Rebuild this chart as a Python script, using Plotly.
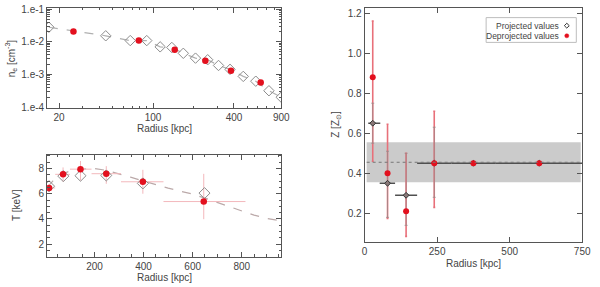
import numpy as np
import plotly.graph_objects as go

# ---------------- data ----------------
# Top-left: electron density
ne_proj_r = [16.8, 44.5, 67.7, 89.8, 113, 138, 168, 207, 255, 307, 374, 469, 581, 728, 898]
ne_proj = [0.028, 0.0153, 0.0109, 0.0109, 0.0070, 0.0067, 0.00444, 0.00316, 0.00282,
           0.00188, 0.00143, 0.00087, 0.00062, 0.000316, 0.000200]
ne_deproj_r = [25.6, 78.4, 145, 245, 380, 632]
ne_deproj = [0.0207, 0.0109, 0.0057, 0.00264, 0.00129, 0.00057]
ne_ticks = [1e-4, 1e-3, 1e-2, 1e-1]
ne_ticktext = ["1.e-4", "1.e-3", "1.e-2", "1.e-1"]
r_log_ticks = [20, 100, 400, 900]

# Bottom-left: temperature
T_proj_r = [15, 73, 143, 248, 397, 648]
T_proj = [6.6, 7.40, 7.43, 7.45, 6.82, 6.05]
T_deproj_r = [15, 72, 143, 248, 397, 645]
T_deproj = [6.46, 7.54, 7.95, 7.59, 6.95, 5.38]
T_rerr_minus = [7, 32, 43, 60, 89, 164]
T_rerr_plus = [25, 28, 45, 60, 84, 170]
T_err_plus = [0.3, 0.55, 0.65, 0.6, 0.95, 2.2]
T_err_minus = [0.3, 0.6, 0.9, 0.8, 0.95, 1.4]
T_model_r = [7, 30, 60, 100, 150, 200, 250, 300, 350, 400, 450, 500, 550, 600,
             650, 700, 750, 800, 850, 900, 961]
T_model = [6.5, 7.0, 7.5, 7.8, 7.95, 8.0, 7.85, 7.6, 7.3, 7.0, 6.7, 6.45, 6.2, 5.97,
           5.65, 5.3, 4.95, 4.6, 4.3, 4.05, 3.85]

# Right: metallicity
Z_r = [28, 79, 143, 240, 375, 602]
Z_proj = [0.65, 0.35, 0.29, 0.45, 0.45, 0.45]
Z_proj_rerr_minus = [15.5, 27, 38, 59, 75, 152]
Z_proj_rerr_plus = [26, 26, 38, 60, 75, 148]
Z_proj_err_plus = [0.10, 0.16, 0.21, 0.18, 0, 0]
Z_proj_err_minus = [0.10, 0.17, 0.15, 0.17, 0, 0]
Z_deproj = [0.88, 0.40, 0.21, 0.45, 0.45, 0.45]
Z_err_plus = [0.28, 0.245, 0.29, 0.26, 0, 0]
Z_err_minus = [0.42, 0.225, 0.125, 0.22, 0, 0]
Z_mean = 0.455
Z_band = [0.355, 0.555]
Z_band_r = [7, 745]

# ---------------- figure ----------------
W, H = 600, 287
def px(x): return x / W
def py(y): return 1 - y / H

RED = "#e3101e"
GRAY = "#8c8c8c"
AX = "#555555"
TXT = "#444444"
FONT = "Liberation Sans"

fig = go.Figure()

# top-left
fig.add_trace(go.Scatter(x=ne_proj_r, y=ne_proj, mode="lines+markers",
                         line=dict(color="#b0b0b0", dash="dash", width=1.2),
                         marker=dict(symbol="diamond-open", size=8, color=GRAY, line=dict(width=1)),
                         xaxis="x", yaxis="y", showlegend=False))
fig.add_trace(go.Scatter(x=ne_deproj_r, y=ne_deproj, mode="markers",
                         marker=dict(symbol="circle", size=6.5, color=RED),
                         xaxis="x", yaxis="y", showlegend=False))

# bottom-left
fig.add_trace(go.Scatter(x=T_model_r, y=T_model, mode="lines",
                         line=dict(color="#bba9a9", dash="dash", width=1.2),
                         xaxis="x2", yaxis="y2", showlegend=False))
fig.add_trace(go.Scatter(x=T_deproj_r, y=T_deproj, mode="markers",
                         marker=dict(symbol="circle", size=0.1, color="rgba(0,0,0,0)"),
                         error_x=dict(type="data", array=T_rerr_plus, arrayminus=T_rerr_minus,
                                      color="#f3b8bc", thickness=1, width=0),
                         error_y=dict(type="data", array=T_err_plus, arrayminus=T_err_minus,
                                      color="#f3b8bc", thickness=1, width=0),
                         xaxis="x2", yaxis="y2", showlegend=False))
fig.add_trace(go.Scatter(x=T_proj_r, y=T_proj, mode="markers",
                         marker=dict(symbol="diamond-open", size=8.5, color=GRAY, line=dict(width=1)),
                         xaxis="x2", yaxis="y2", showlegend=False))
fig.add_trace(go.Scatter(x=T_deproj_r, y=T_deproj, mode="markers",
                         marker=dict(symbol="circle", size=6.5, color=RED),
                         xaxis="x2", yaxis="y2", showlegend=False))

# right panel
fig.add_shape(type="rect", xref="x3", yref="y3", x0=Z_band_r[0], x1=Z_band_r[1],
              y0=Z_band[0], y1=Z_band[1], fillcolor="#cbcbcb", line=dict(width=0), layer="below")
fig.add_shape(type="line", xref="x3", yref="y3", x0=Z_band_r[0], x1=Z_band_r[1],
              y0=Z_mean, y1=Z_mean, line=dict(color="#777777", width=1, dash="dot"))
fig.add_trace(go.Scatter(x=Z_r, y=Z_deproj, mode="markers",
                         marker=dict(symbol="circle", size=0.1, color="rgba(0,0,0,0)"),
                         error_y=dict(type="data", array=Z_err_plus, arrayminus=Z_err_minus,
                                      color="#e8707a", thickness=1.6, width=1),
                         xaxis="x3", yaxis="y3", showlegend=False))
fig.add_trace(go.Scatter(x=Z_r, y=Z_proj, mode="markers",
                         marker=dict(symbol="diamond", size=4.5, color="#8a7878",
                                     line=dict(color="#333333", width=1)),
                         error_x=dict(type="data", array=Z_proj_rerr_plus, arrayminus=Z_proj_rerr_minus,
                                      color="#505050", thickness=1.4, width=0),
                         error_y=dict(type="data", array=Z_proj_err_plus, arrayminus=Z_proj_err_minus,
                                      color="#9a8a8a", thickness=0.8, width=1.5),
                         xaxis="x3", yaxis="y3", showlegend=False))
fig.add_trace(go.Scatter(x=Z_r, y=Z_deproj, mode="markers",
                         marker=dict(symbol="circle", size=6, color=RED),
                         xaxis="x3", yaxis="y3", showlegend=False))

axcommon = dict(showline=True, linecolor=AX, linewidth=1, mirror="ticks", ticks="inside",
                tickcolor=AX, showgrid=False, zeroline=False, ticklabeloverflow="allow",
                tickfont=dict(family=FONT, size=10, color=TXT))

fig.update_layout(
    width=W, height=H, margin=dict(l=0, r=0, t=0, b=0),
    paper_bgcolor="white", plot_bgcolor="white",
    xaxis=dict(axcommon, type="log", domain=[px(45), px(284)], anchor="y",
               range=[np.log10(16.3), np.log10(900)], tickvals=r_log_ticks,
               ticktext=[str(v) for v in r_log_ticks], ticklen=5,
               minor=dict(ticks="inside", ticklen=2.5, tickcolor=AX,
                          tickvals=[30, 40, 50, 60, 70, 80, 90, 200, 300, 500, 600, 700, 800])),
    yaxis=dict(axcommon, type="log", domain=[py(107), py(4)], anchor="x",
               range=[-4.03, -0.96], tickvals=ne_ticks, ticktext=ne_ticktext, ticklen=5,
               minor=dict(ticks="inside", ticklen=2.5, tickcolor=AX, dtick="D1")),
    xaxis2=dict(axcommon, domain=[px(45), px(284)], anchor="y2", range=[7, 961],
                tickvals=[200, 400, 600, 800], ticklen=5,
                minor=dict(ticks="inside", ticklen=2.5, tickcolor=AX, dtick=50)),
    yaxis2=dict(axcommon, domain=[py(260), py(155)], anchor="x2", range=[1.0, 9.1],
                tickvals=[2, 4, 6, 8], ticklen=5,
                minor=dict(ticks="inside", ticklen=2.5, tickcolor=AX, dtick=0.5)),
    xaxis3=dict(axcommon, domain=[px(369), px(591)], anchor="y3", range=[0, 750],
                tickvals=[0, 250, 500, 750], ticklen=5),
    yaxis3=dict(axcommon, domain=[py(245), py(4)], anchor="x3", range=[0.056, 1.226],
                tickvals=[0.2, 0.4, 0.6, 0.8, 1.0, 1.2], ticktext=["0.2", "0.4", "0.6", "0.8", "1.0", "1.2"],
                ticklen=5),
)

def ann(x, y, text, size=10, angle=0, xanchor="center"):
    fig.add_annotation(x=px(x), y=py(y), xref="paper", yref="paper", text=text,
                       showarrow=False, textangle=angle, xanchor=xanchor, yanchor="middle",
                       font=dict(family=FONT, size=size, color=TXT))

ann(164.5, 128, "Radius [kpc]")
ann(164.5, 281, "Radius [kpc]")
ann(480, 267, "Radius [kpc]")
ann(8, 56, "n<sub>e</sub> [cm<sup>-3</sup>]", angle=-90)
ann(13, 207, "T [keV]", angle=-90)
ann(339, 124, "Z [Z<sub>⊙</sub>]", angle=-90)

# legend box
fig.add_shape(type="rect", xref="paper", yref="paper", x0=px(493), x1=px(585), y0=py(39.5), y1=py(14),
              line=dict(color="#bdbdbd", width=1), fillcolor="white")
ann(569, 22.3, "Projected values", size=8.5, xanchor="right")
ann(569, 32.7, "Deprojected values", size=8.5, xanchor="right")
fig.add_shape(type="path", xref="paper", yref="paper",
              path=f"M {px(575.3)} {py(19.8)} L {px(577.8)} {py(22.3)} L {px(575.3)} {py(24.8)} L {px(572.8)} {py(22.3)} Z",
              line=dict(color="#333333", width=1), fillcolor="white")
fig.add_shape(type="circle", xref="paper", yref="paper", x0=px(573.2), x1=px(577.4), y0=py(34.8), y1=py(30.6),
              line=dict(color=RED, width=0.5), fillcolor=RED)

fig.write_html("out.html", config={"displayModeBar": False},
               post_script="document.body.style.margin='0';document.body.style.overflow='hidden';")
